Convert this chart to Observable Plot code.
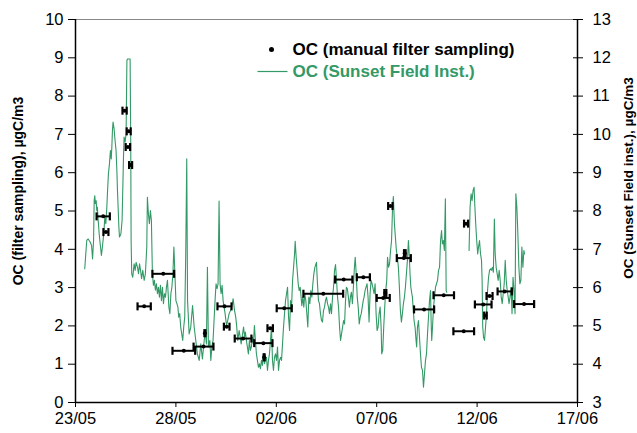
<!DOCTYPE html>
<html><head><meta charset="utf-8">
<script src="https://cdn.jsdelivr.net/npm/d3@7"></script>
<script src="https://cdn.jsdelivr.net/npm/@observablehq/plot@0.6"></script>
<style>body{margin:0;background:#fff}</style>
</head><body><div id="chart"></div>
<script>
// ---- data ----
const year = "2008";
const xTickLabels = ["23/05","28/05","02/06","07/06","12/06","17/06"];
const leftTicks = [0,1,2,3,4,5,6,7,8,9,10];
const rightTickLabels = [3,4,5,6,7,8,9,10,11,12,13];
const leftTitle = "OC (filter sampling), µgC/m3";
const rightTitle = "OC (Sunset Field inst.), µgC/m3";
const legendFilter = "OC (manual filter sampling)";
const legendSunset = "OC (Sunset Field Inst.)";

// Sunset instrument: days after 23/05 00:00, OC (right axis units)
const sunsetDay = [0.46,0.56,0.63,0.73,0.80,0.85,0.90,0.93,0.96,0.99,1.03,1.06,1.09,1.13,1.18,1.23,1.29,1.34,1.39,1.43,1.46,1.51,1.56,1.59,1.64,1.69,1.74,1.78,1.81,1.84,1.87,1.92,1.97,2.02,2.06,2.09,2.16,2.19,2.26,2.32,2.39,2.42,2.47,2.52,2.56,2.59,2.72,2.75,2.77,2.80,2.85,2.92,2.97,3.02,3.09,3.14,3.19,3.24,3.29,3.35,3.42,3.48,3.55,3.58,3.63,3.68,3.73,3.78,3.83,3.88,3.93,3.98,4.03,4.08,4.13,4.18,4.23,4.28,4.33,4.38,4.43,4.48,4.53,4.58,4.65,4.70,4.75,4.80,4.85,4.90,4.95,5.00,5.05,5.10,5.14,5.19,5.24,5.29,5.34,5.39,5.44,5.49,5.54,
5.58,5.66,5.74,5.83,5.91,5.99,6.07,6.16,6.24,6.32,6.41,6.46,6.52,6.57,6.62,6.69,6.74,6.79,6.85,6.90,6.95,7.00,7.05,7.10,7.15,7.20,7.25,7.30,7.35,7.40,7.45,7.52,7.58,7.65,7.72,7.78,7.85,7.92,7.98,8.03,8.08,8.15,8.20,8.25,8.32,8.37,8.42,8.46,8.51,8.56,8.61,8.66,8.71,8.76,8.81,8.86,8.91,8.96,9.01,9.06,9.11,9.16,9.21,9.26,9.31,9.36,9.41,9.46,9.51,9.56,9.61,9.66,9.71,9.76,9.81,9.86,9.91,9.96,10.01,10.06,10.11,10.16,10.21,10.26,10.31,10.36,10.41,10.46,10.51,10.56,10.61,10.66,10.71,10.76,10.81,10.86,10.91,10.94,10.99,11.04,11.09,11.14,11.19,11.22,
11.27,11.32,11.37,11.42,11.47,11.52,11.57,11.62,11.67,11.72,11.77,11.82,11.87,11.92,12.00,12.05,12.10,12.15,12.20,12.25,12.30,12.35,12.40,12.45,12.50,12.55,12.60,12.65,12.70,12.75,12.80,12.85,12.90,12.95,13.00,13.05,13.10,13.15,13.20,13.25,13.30,13.35,13.40,13.44,13.49,13.54,13.59,13.64,13.69,13.74,13.79,13.84,13.89,13.93,13.98,14.03,14.08,14.13,14.18,14.23,14.28,14.33,14.37,14.42,14.47,14.52,14.57,14.62,14.67,14.72,14.77,14.82,14.87,14.92,14.97,15.02,15.07,15.12,15.17,15.22,15.25,15.30,15.35,15.40,15.45,15.50,15.54,15.59,15.64,15.69,15.74,15.79,15.83,15.88,15.93,15.98,16.03,16.08,16.13,16.18,16.23,16.28,16.33,16.38,16.43,16.48,16.53,16.58,16.61,16.66,16.70,
16.75,16.78,16.81,16.86,16.91,16.96,16.99,17.03,17.08,17.13,17.18,17.23,17.28,17.33,17.38,17.43,17.48,17.53,17.58,17.63,17.68,17.71,17.74,17.78,17.83,17.88,17.93,17.98,18.03,18.08,18.13,18.18,18.23,18.27,18.32,18.37,18.42,18.46,18.49,
19.00,
19.60,19.65,19.70,19.75,19.80,19.85,19.89,19.94,19.98,20.03,20.07,20.12,20.17,20.22,20.25,20.28,20.32,20.37,20.42,20.47,20.52,20.57,20.62,20.67,20.71,20.76,20.81,20.86,20.90,20.95,21.00,21.05,21.10,21.15,21.20,21.25,21.30,21.35,21.40,21.45,21.50,21.55,21.59,21.64,21.69,21.74,21.79,21.84,21.89,21.93,21.98,22.03,22.08,22.13,22.18,22.23,22.28,22.33,22.36];
const sunsetOC = [6.49,7.23,7.27,7.19,7.10,6.75,7.23,8.27,8.40,8.19,8.27,8.01,8.10,7.75,7.40,7.14,6.84,7.06,7.32,7.58,7.84,7.67,8.10,8.45,8.97,9.23,9.58,9.36,9.67,10.10,10.32,10.15,9.84,9.58,9.06,8.54,7.58,7.32,7.40,7.75,9.41,9.93,9.80,10.02,11.93,11.97,11.97,9.84,7.23,6.36,6.27,6.62,6.45,6.66,6.53,6.36,6.62,6.45,6.23,6.45,6.19,6.36,7.06,8.36,7.93,7.67,8.01,7.75,6.36,6.06,6.19,5.93,6.10,5.84,6.01,5.75,6.06,5.66,6.01,5.58,5.84,5.75,6.01,6.19,5.49,5.32,5.84,6.01,6.36,7.06,6.36,5.66,5.58,5.49,5.23,5.32,4.97,4.79,4.62,4.97,5.23,6.88,9.36,
5.66,4.79,4.97,5.53,4.97,4.62,4.27,4.10,4.53,4.14,4.62,4.84,4.53,6.53,4.45,4.62,4.10,4.45,4.62,5.14,5.66,6.10,5.97,6.10,8.26,6.10,5.84,6.06,5.66,5.49,5.32,5.01,5.14,5.32,5.40,5.49,5.71,5.40,5.23,4.97,4.62,4.88,4.71,4.53,4.79,4.97,4.71,4.84,4.62,4.45,4.27,4.62,4.36,4.45,4.71,4.53,5.01,4.62,4.27,4.10,3.92,4.01,3.88,4.10,3.97,4.27,4.01,4.10,4.18,3.84,4.10,4.27,4.62,4.97,4.10,3.84,4.18,4.27,4.10,4.45,3.84,4.10,4.18,4.10,4.53,4.97,5.32,5.66,5.84,6.01,5.23,4.88,5.66,5.49,6.19,6.53,6.88,7.21,6.79,6.45,6.10,5.92,6.01,5.84,
5.53,5.75,5.49,5.84,5.66,5.32,4.97,5.75,5.58,5.92,5.75,6.10,6.36,6.53,6.66,6.10,5.66,5.58,5.32,5.14,5.10,5.40,5.49,5.66,5.75,5.58,5.49,5.32,5.58,5.32,5.75,6.01,6.45,6.60,6.19,5.75,5.49,4.97,4.62,4.79,4.97,5.14,5.05,5.58,6.01,5.97,5.75,5.49,5.75,5.88,5.58,6.01,6.53,6.79,6.36,5.75,5.49,5.05,5.23,5.32,5.49,5.66,5.75,5.92,6.01,6.10,5.75,5.10,5.84,6.19,6.10,5.97,5.84,6.10,5.32,4.88,4.97,5.32,5.49,4.97,4.27,4.36,4.97,5.49,5.92,6.19,6.79,6.53,6.62,6.97,7.23,8.10,8.38,7.69,7.32,6.97,6.79,6.53,6.01,5.40,5.10,5.32,5.58,5.75,6.01,6.36,6.71,7.23,6.97,6.36,6.01,
5.84,5.75,5.49,5.14,4.97,4.62,4.45,4.97,5.14,4.71,4.27,3.92,3.84,3.40,3.75,4.10,4.27,4.79,5.23,5.66,5.92,5.14,4.62,4.97,5.49,5.75,6.01,6.10,6.19,6.45,6.53,7.23,7.49,7.14,7.23,6.97,8.32,5.92,5.88,
null,
6.97,8.10,8.45,8.27,8.54,8.62,8.10,7.58,7.23,6.88,7.06,7.23,6.88,6.71,6.19,4.97,4.71,4.62,4.97,5.32,5.92,6.27,6.45,6.49,6.45,6.53,6.40,7.79,6.88,6.53,6.36,6.19,6.45,6.19,5.75,5.58,5.84,6.10,6.71,6.19,5.92,5.75,5.58,5.75,6.01,5.32,6.27,5.92,5.32,8.45,8.10,7.41,6.53,6.10,6.19,7.06,6.53,6.97,6.88];

// Manual filter sampling: sampling interval start/end (days after 23/05), OC (left axis units)
const filterStart = [1.05,1.39,2.34,2.55,2.50,2.67,3.09,3.83,4.83,5.88,6.42,7.07,7.39,7.93,8.90,9.56,9.37,10.02,11.35,12.93,14.01,15.00,15.38,15.57,16.00,16.36,16.86,17.83,18.82,19.35,19.89,20.35,20.47,21.02,21.84];
const filterEnd   = [1.71,1.64,2.55,2.75,2.72,2.82,3.75,4.91,5.96,6.87,6.47,7.77,7.67,8.76,9.81,9.83,9.42,10.77,13.33,13.79,14.66,15.65,15.48,15.79,16.70,16.44,17.86,18.85,19.85,19.55,20.72,20.48,20.77,21.73,22.84];
const filterOC    = [4.86,4.45,7.62,7.08,6.67,6.20,2.51,3.36,1.35,1.46,1.81,2.51,1.98,1.67,1.55,1.94,1.18,2.46,2.84,3.21,3.27,2.73,2.86,5.13,3.77,3.90,2.43,2.80,1.86,4.67,2.56,2.27,2.78,2.90,2.57];

// ---- build ----
const green = "#339966";
const parse = d3.utcParse("%d/%m/%Y");
const xTicks = xTickLabels.map(s => parse(s + "/" + year));
const day0 = xTicks[0];
const toDate = d => new Date(+day0 + d * 864e5);
const rightOffset = rightTickLabels[0] - leftTicks[0];

const sunset = sunsetDay.map((d, i) => ({date: toDate(d), v: sunsetOC[i] == null ? NaN : sunsetOC[i] - rightOffset}));
const filter = filterOC.map((v, i) => ({start: toDate(filterStart[i]), end: toDate(filterEnd[i]), mid: toDate((filterStart[i] + filterEnd[i]) / 2), v}));
const caps = filter.flatMap(f => [{x: f.start, v: f.v}, {x: f.end, v: f.v}]);

const vbar = {draw(ctx) { ctx.moveTo(0, -4); ctx.lineTo(0, 4); }};
const hbar = {draw(ctx) { ctx.moveTo(-15, 0); ctx.lineTo(15, 0); }};
const font = "'Liberation Sans', Arial, sans-serif";

const chart = Plot.plot({
  width: 637, height: 433,
  marginLeft: 75, marginRight: 60, marginTop: 19, marginBottom: 31,
  style: {fontFamily: font, fontSize: "17px", color: "black", background: "white"},
  x: {type: "utc", domain: [xTicks[0], xTicks[xTicks.length - 1]]},
  y: {domain: [leftTicks[0], leftTicks[leftTicks.length - 1]]},
  marks: [
    Plot.ruleY([leftTicks[leftTicks.length - 1]], {stroke: "#888", strokeWidth: 1}),
    Plot.line(sunset, {x: "date", y: "v", stroke: green, strokeWidth: 1.1}),
    Plot.link(filter, {x1: "start", x2: "end", y1: "v", y2: "v", stroke: "black", strokeWidth: 2}),
    Plot.dot(caps, {x: "x", y: "v", symbol: vbar, stroke: "black", strokeWidth: 2.2}),
    Plot.dot(filter, {x: "mid", y: "v", r: 2, fill: "black"}),
    Plot.ruleY([leftTicks[0]], {stroke: "black", strokeWidth: 1.5}),
    Plot.ruleX([xTicks[0], xTicks[xTicks.length - 1]], {stroke: "black", strokeWidth: 1.5}),
    Plot.axisX({ticks: xTicks, tickFormat: d => xTickLabels[xTicks.findIndex(t => +t === +d)], tickSize: 5, tickPadding: 5, label: null, fontSize: 16.5}),
    Plot.axisY({ticks: leftTicks, tickSize: 7, tickPadding: 5, label: null, fontSize: 16.5}),
    Plot.axisY({anchor: "right", ticks: leftTicks, tickSize: 10, insetRight: 5, text: null, label: null}),
    Plot.axisY({anchor: "right", ticks: leftTicks, tickSize: 0, tickPadding: 15, label: null, fontSize: 16.5,
      tickFormat: d => rightTickLabels[leftTicks.indexOf(d)]}),
    Plot.text([leftTitle], {text: d => d, frameAnchor: "left", dx: -57, dy: -20, rotate: -90, textAnchor: "middle", lineAnchor: "middle", fontWeight: "bold", fontSize: 14}),
    Plot.text([rightTitle], {text: d => d, frameAnchor: "right", dx: 51, dy: -33, rotate: -90, textAnchor: "middle", lineAnchor: "middle", fontWeight: "bold", fontSize: 13.5}),
    Plot.dot([legendFilter], {frameAnchor: "top-left", dx: 196, dy: 30, r: 2.5, fill: "black"}),
    Plot.text([legendFilter], {text: d => d, frameAnchor: "top-left", dx: 217, dy: 30, textAnchor: "start", lineAnchor: "middle", fontWeight: "bold", fontSize: 17}),
    Plot.dot([legendSunset], {frameAnchor: "top-left", dx: 197, dy: 52, symbol: hbar, stroke: green, strokeWidth: 1.2}),
    Plot.text([legendSunset], {text: d => d, frameAnchor: "top-left", dx: 217, dy: 52, textAnchor: "start", lineAnchor: "middle", fontWeight: "bold", fontSize: 17, fill: green})
  ]
});
document.getElementById("chart").append(chart);
</script>
</body></html>
